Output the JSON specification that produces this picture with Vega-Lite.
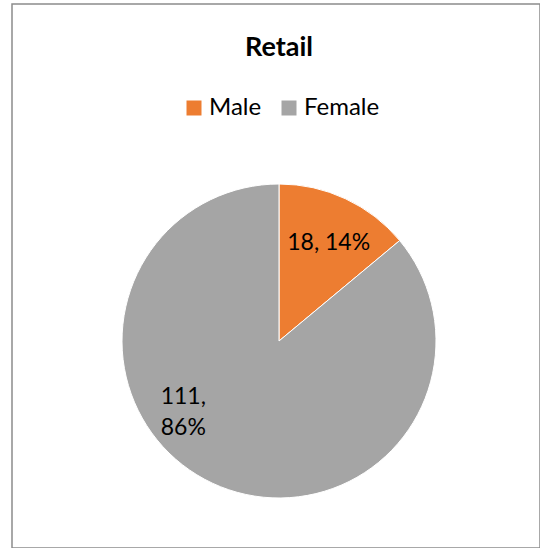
{
  "$schema": "https://vega.github.io/schema/vega-lite/v6.json",
  "autosize": {"type": "fit", "contains": "padding"},
  "width": 540,
  "height": 548,
  "padding": {"left": 12, "top": 4, "right": 0, "bottom": 0},
  "background": "white",
  "view": {"stroke": "#8c8c8c", "strokeWidth": 1.5},
  "config": {
    "font": "Lato"
  },
  "title": {
    "text": "Retail",
    "fontSize": 27,
    "fontWeight": "bold",
    "font": "Lato",
    "color": "#000000",
    "anchor": "start",
    "dx": 233,
    "offset": -58
  },
  "data": {
    "values": [
      {"gender": "Male", "count": 18, "order": 1, "label": "18, 14%"},
      {"gender": "Female", "count": 111, "order": 2, "label": ["111,", "86%"]}
    ]
  },
  "encoding": {
    "theta": {"field": "count", "type": "quantitative", "stack": true},
    "order": {"field": "order", "type": "quantitative"}
  },
  "layer": [
    {
      "mark": {"type": "arc", "outerRadius": 157, "stroke": "white", "strokeWidth": 1, "x": {"expr": "width/2+3"}, "y": {"expr": "height/2+65"}},
      "encoding": {
        "color": {
          "field": "gender",
          "type": "nominal",
          "sort": ["Male", "Female"],
          "scale": {"domain": ["Male", "Female"], "range": ["#ED7D31", "#A5A5A5"]},
          "legend": {
            "title": null,
            "orient": "none",
            "direction": "horizontal",
            "legendX": 170,
            "legendY": 92,
            "symbolType": "square",
            "symbolSize": 225,
            "symbolStrokeWidth": 0,
            "labelFontSize": 24,
            "labelFont": "Lato",
            "labelColor": "#000000",
            "labelOffset": 3,
            "columnPadding": 15
          }
        }
      }
    },
    {
      "mark": {"type": "text", "radius": 110, "fontSize": 23, "font": "Lato", "color": "#000000", "lineHeight": 31, "x": {"expr": "width/2+3"}, "y": {"expr": "height/2+65"}, "dx": {"expr": "datum.gender == 'Male' ? 3 : -49"}, "dy": {"expr": "datum.gender == 'Male' ? 2 : -44"}},
      "encoding": {"text": {"field": "label"}}
    }
  ]
}
